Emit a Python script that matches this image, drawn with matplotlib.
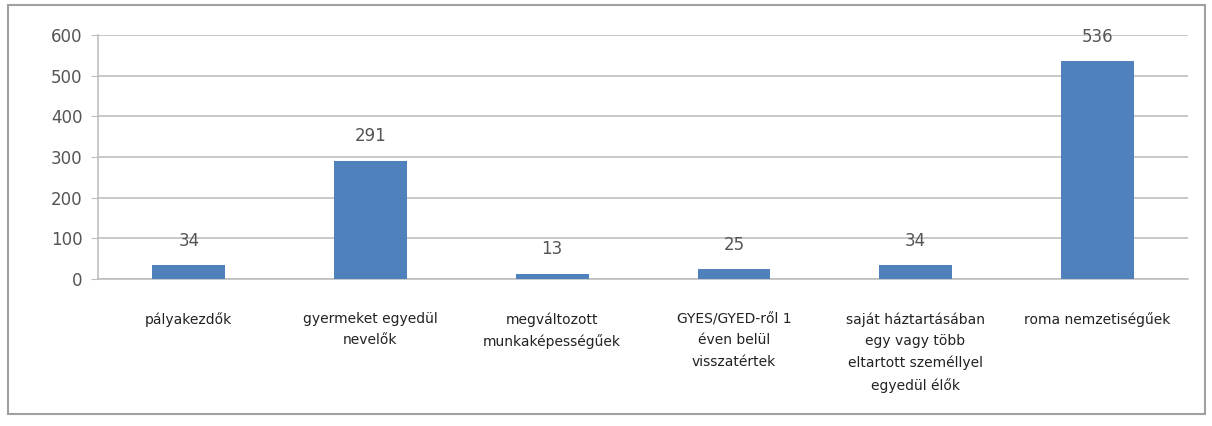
import matplotlib
matplotlib.use("Agg")
import matplotlib.pyplot as plt
from matplotlib.patches import Rectangle

categories = [
    "pályakezdők",
    "gyermeket egyedül\nnevelők",
    "megváltozott\nmunkaképességűek",
    "GYES/GYED-ről 1\néven belül\nvisszatértek",
    "saját háztartásában\negy vagy több\neltartott személlyel\negyedül élők",
    "roma nemzetiségűek",
]
values = [34, 291, 13, 25, 34, 536]
yticks = [0, 100, 200, 300, 400, 500, 600]

W, H = 1212, 426
fig = plt.figure(figsize=(W / 100, H / 100), dpi=100)
fig.patch.set_facecolor("white")
fig.add_artist(Rectangle((8 / W, 1 - 414 / H), (1205 - 8) / W, (414 - 5) / H,
                         transform=fig.transFigure, fill=False,
                         edgecolor="#a0a0a0", linewidth=1.5))

ax = fig.add_axes([98 / W, 1 - 279 / H, (1188 - 98) / W, (279 - 35) / H])
x = list(range(len(categories)))
ax.bar(x, values, width=0.4, color="#4F81BD", zorder=3)
for xi, v in zip(x, values):
    ax.annotate(str(v), (xi, v), xytext=(0, 11), textcoords="offset points",
                ha="center", va="bottom", fontsize=12, color="#555555")

ax.set_ylim(0, 600)
ax.set_xlim(-0.5, len(categories) - 0.5)
ax.set_yticks(yticks)
ax.set_yticklabels([str(t) for t in yticks], fontsize=12, color="#555555")
ax.yaxis.grid(True, color="#bfbfbf", linewidth=1.2, zorder=0)
ax.set_xticks(x)
ax.set_xticklabels(categories, fontsize=10, color="#222222", linespacing=1.65)
ax.tick_params(axis="x", length=0, pad=24)
ax.tick_params(axis="y", length=5, color="#bfbfbf", pad=6)
for s in ["top", "right"]:
    ax.spines[s].set_visible(False)
ax.spines["left"].set_color("#bfbfbf")
ax.spines["bottom"].set_color("#bfbfbf")
ax.spines["left"].set_linewidth(1.2)
ax.spines["bottom"].set_linewidth(1.2)

fig.savefig("out.png", dpi=100)
